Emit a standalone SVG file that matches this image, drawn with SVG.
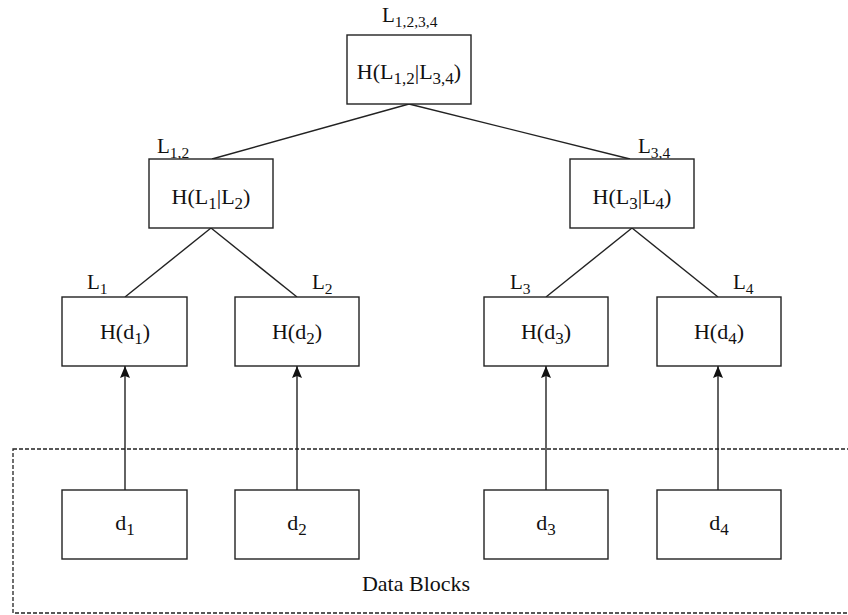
<svg xmlns="http://www.w3.org/2000/svg" width="848" height="615" viewBox="0 0 848 615">
  <style>
    .box { fill: #fff; stroke: #222; stroke-width: 1.4; }
    .edge { fill: none; stroke: #222; stroke-width: 1.4; }
    .t { font-family: "Liberation Serif", "Times New Roman", serif; font-size: 22px; fill: #111; }
    .lbl { font-family: "Liberation Serif", "Times New Roman", serif; font-size: 21px; fill: #111; }
    .sub { font-size: 17px; }
    .lbl .sub { font-size: 15.5px; }
  </style>
  <defs>
    <marker id="arrow" markerWidth="12" markerHeight="10" refX="12" refY="5" orient="auto" markerUnits="userSpaceOnUse" viewBox="0 0 12 10">
      <path d="M0,0 L12,5 L0,10 L2,5 Z" fill="#111"/>
    </marker>
  </defs>
  <rect width="848" height="615" fill="#fff"/>

  <!-- data block region -->
  <rect id="data-region" x="13" y="449" width="860" height="164" fill="none" stroke="#222" stroke-width="1.3" stroke-dasharray="4 2"/>
  <text class="t" x="416" y="591" text-anchor="middle">Data Blocks</text>

  <!-- connectors -->
  <g id="connectors">
    <line class="edge" x1="409" y1="104" x2="212" y2="159"/>
    <line class="edge" x1="409" y1="104" x2="630" y2="159"/>
    <line class="edge" x1="211" y1="228" x2="125" y2="297"/>
    <line class="edge" x1="211" y1="228" x2="297" y2="297"/>
    <line class="edge" x1="632" y1="228" x2="546" y2="297"/>
    <line class="edge" x1="632" y1="228" x2="718" y2="297"/>
    <line class="edge" x1="125" y1="490" x2="125" y2="366" marker-end="url(#arrow)"/>
    <line class="edge" x1="297" y1="490" x2="297" y2="366" marker-end="url(#arrow)"/>
    <line class="edge" x1="546" y1="490" x2="546" y2="366" marker-end="url(#arrow)"/>
    <line class="edge" x1="718" y1="490" x2="718" y2="366" marker-end="url(#arrow)"/>
  </g>

  <!-- root -->
  <g id="root">
    <text class="lbl" x="382" y="22">L<tspan class="sub" dy="5">1,2,3,4</tspan></text>
    <rect class="box" x="347" y="35" width="124" height="69"/>
    <text class="t" x="409" y="79" text-anchor="middle">H(L<tspan class="sub" dy="5">1,2</tspan><tspan dy="-5">|L</tspan><tspan class="sub" dy="5">3,4</tspan><tspan dy="-5">)</tspan></text>
  </g>

  <!-- level 1 -->
  <g id="node-l12">
    <text class="lbl" x="157" y="153">L<tspan class="sub" dy="5">1,2</tspan></text>
    <rect class="box" x="149" y="159" width="124" height="69"/>
    <text class="t" x="211" y="204" text-anchor="middle">H(L<tspan class="sub" dy="5">1</tspan><tspan dy="-5">|L</tspan><tspan class="sub" dy="5">2</tspan><tspan dy="-5">)</tspan></text>
  </g>
  <g id="node-l34">
    <text class="lbl" x="638" y="153">L<tspan class="sub" dy="5">3,4</tspan></text>
    <rect class="box" x="570" y="159" width="124" height="69"/>
    <text class="t" x="632" y="204" text-anchor="middle">H(L<tspan class="sub" dy="5">3</tspan><tspan dy="-5">|L</tspan><tspan class="sub" dy="5">4</tspan><tspan dy="-5">)</tspan></text>
  </g>

  <!-- leaves -->
  <g id="node-l1">
    <text class="lbl" x="87" y="289">L<tspan class="sub" dy="5">1</tspan></text>
    <rect class="box" x="62" y="297" width="125" height="69"/>
    <text class="t" x="125" y="339" text-anchor="middle">H(d<tspan class="sub" dy="5">1</tspan><tspan dy="-5">)</tspan></text>
  </g>
  <g id="node-l2">
    <text class="lbl" x="312" y="289">L<tspan class="sub" dy="5">2</tspan></text>
    <rect class="box" x="235" y="297" width="124" height="69"/>
    <text class="t" x="297" y="339" text-anchor="middle">H(d<tspan class="sub" dy="5">2</tspan><tspan dy="-5">)</tspan></text>
  </g>
  <g id="node-l3">
    <text class="lbl" x="510" y="289">L<tspan class="sub" dy="5">3</tspan></text>
    <rect class="box" x="484" y="297" width="124" height="69"/>
    <text class="t" x="546" y="339" text-anchor="middle">H(d<tspan class="sub" dy="5">3</tspan><tspan dy="-5">)</tspan></text>
  </g>
  <g id="node-l4">
    <text class="lbl" x="733" y="289">L<tspan class="sub" dy="5">4</tspan></text>
    <rect class="box" x="657" y="297" width="124" height="69"/>
    <text class="t" x="719" y="339" text-anchor="middle">H(d<tspan class="sub" dy="5">4</tspan><tspan dy="-5">)</tspan></text>
  </g>

  <!-- data blocks -->
  <g id="block-d1">
    <rect class="box" x="62" y="490" width="125" height="69"/>
    <text class="t" x="125" y="530" text-anchor="middle">d<tspan class="sub" dy="5">1</tspan></text>
  </g>
  <g id="block-d2">
    <rect class="box" x="235" y="490" width="124" height="69"/>
    <text class="t" x="297" y="530" text-anchor="middle">d<tspan class="sub" dy="5">2</tspan></text>
  </g>
  <g id="block-d3">
    <rect class="box" x="484" y="490" width="124" height="69"/>
    <text class="t" x="546" y="530" text-anchor="middle">d<tspan class="sub" dy="5">3</tspan></text>
  </g>
  <g id="block-d4">
    <rect class="box" x="657" y="490" width="124" height="69"/>
    <text class="t" x="719" y="530" text-anchor="middle">d<tspan class="sub" dy="5">4</tspan></text>
  </g>
</svg>
